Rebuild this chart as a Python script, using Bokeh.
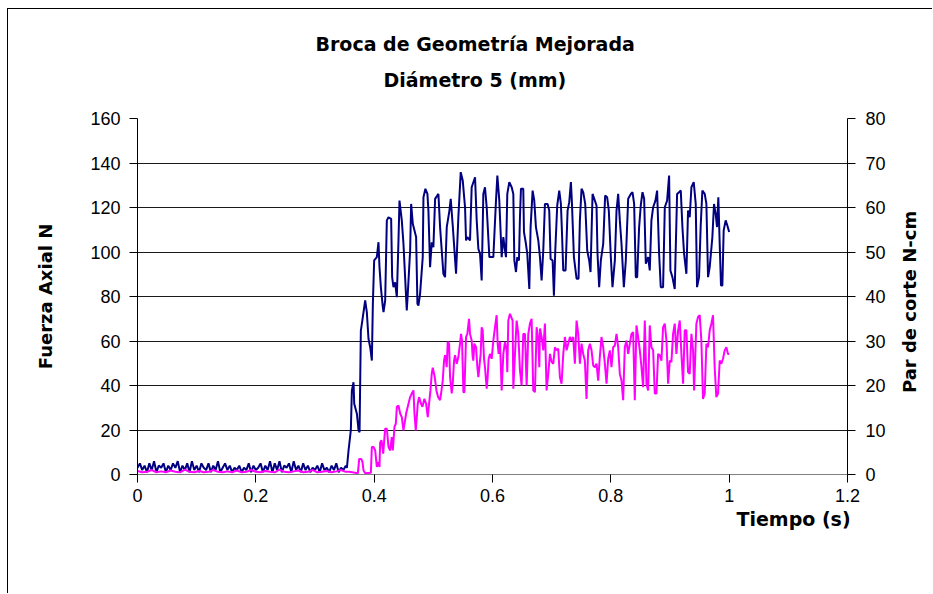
import math
from bokeh.plotting import figure
from bokeh.models import Range1d, LinearAxis, FixedTicker, NumeralTickFormatter, Title
from bokeh.embed import file_html
from bokeh.resources import INLINE

# ---------------- data ----------------
title_lines = ["Broca de Geometría Mejorada", "Diámetro 5 (mm)"]
x_label = "Tiempo (s)"
y_label_left = "Fuerza Axial N"
y_label_right = "Par de corte N-cm"
x_ticks = [0, 0.2, 0.4, 0.6, 0.8, 1.0, 1.2]
y_ticks_left = [0, 20, 40, 60, 80, 100, 120, 140, 160]
y_ticks_right = [0, 10, 20, 30, 40, 50, 60, 70, 80]

# idle period (before the drill touches), sampled every 0.004 s
base_step = 0.004
fuerza_base = [3, 5, 2, 4, 1, 5, 2, 6, 1, 4, 3, 5, 1, 4, 2, 5, 3, 6, 1, 4,
               2, 5, 1, 6, 2, 4, 1, 5, 3, 2, 5, 1, 4, 2, 6, 1, 3, 5, 2, 4,
               1, 3, 2, 4, 1, 3, 2, 5, 1, 4, 2, 3, 5, 1, 4, 2, 6, 1, 5, 2,
               6, 1, 4, 3, 5, 1, 6, 2, 4, 1, 5, 2, 4, 1, 3, 2, 4, 1, 5, 2,
               3, 1, 4, 2, 5, 1, 3, 2, 4]
par_step = 0.008
par_base = [0.8, 0.5, 0.6, 1.0, 0.5, 0.7, 0.5, 0.9, 0.6, 0.5, 1.1, 0.6, 0.5, 0.8, 0.5,
            0.6, 1.0, 0.6, 0.5, 0.7, 0.5, 0.9, 0.5, 0.6, 1.0, 0.6, 0.5, 0.8, 0.6, 0.5,
            1.1, 0.6, 0.5, 0.7, 0.9, 0.5, 0.6, 1.0, 0.5, 0.6, 0.8, 0.5, 0.7, 1.0, 0.6]

# cutting period: axial force (N)
fuerza_t = [0.3539, 0.3567, 0.3606, 0.3623, 0.3651, 0.3663, 0.3708, 0.3736, 0.3753, 0.3775,
            0.3792, 0.3848, 0.3876, 0.3904, 0.3933, 0.3961, 0.3978, 0.4000, 0.4045, 0.4073,
            0.4090, 0.4113, 0.4146, 0.4158, 0.4186, 0.4214, 0.4242, 0.4287, 0.4304, 0.4326,
            0.4354, 0.4383, 0.4411, 0.4428, 0.4467, 0.4495, 0.4523, 0.4551, 0.4568, 0.4608,
            0.4625, 0.4653, 0.4709, 0.4731, 0.4748, 0.4776, 0.4821, 0.4833, 0.4866, 0.4900,
            0.4917, 0.4945, 0.4973, 0.5001, 0.5030, 0.5086, 0.5114, 0.5170, 0.5198, 0.5227,
            0.5272, 0.5294, 0.5328, 0.5384, 0.5423, 0.5463, 0.5497, 0.5536, 0.5553, 0.5575,
            0.5620, 0.5648, 0.5705, 0.5733, 0.5761, 0.5789, 0.5817, 0.5845, 0.5873, 0.5902,
            0.5947, 0.6014, 0.6059, 0.6082, 0.6115, 0.6155, 0.6183, 0.6211, 0.6228, 0.6250,
            0.6284, 0.6324, 0.6352, 0.6369, 0.6397, 0.6419, 0.6447, 0.6464, 0.6481, 0.6520,
            0.6532, 0.6565, 0.6588, 0.6622, 0.6644, 0.6678, 0.6706, 0.6734, 0.6774, 0.6802,
            0.6830, 0.6858, 0.6886, 0.6931, 0.6959, 0.6982, 0.7016, 0.7038, 0.7061, 0.7094,
            0.7128, 0.7156, 0.7173, 0.7196, 0.7235, 0.7269, 0.7297, 0.7325, 0.7342, 0.7376,
            0.7421, 0.7454, 0.7477, 0.7505, 0.7533, 0.7567, 0.7601, 0.7634, 0.7657, 0.7691,
            0.7730, 0.7758, 0.7775, 0.7803, 0.7831, 0.7871, 0.7904, 0.7938, 0.7966, 0.8000,
            0.8028, 0.8068, 0.8096, 0.8124, 0.8152, 0.8180, 0.8220, 0.8253, 0.8293, 0.8338,
            0.8366, 0.8394, 0.8422, 0.8445, 0.8478, 0.8506, 0.8535, 0.8563, 0.8591, 0.8630,
            0.8658, 0.8686, 0.8715, 0.8754, 0.8782, 0.8816, 0.8844, 0.8883, 0.8912, 0.8951,
            0.8985, 0.9007, 0.9041, 0.9080, 0.9120, 0.9153, 0.9182, 0.9210, 0.9238, 0.9277,
            0.9305, 0.9333, 0.9362, 0.9401, 0.9435, 0.9457, 0.9491, 0.9519, 0.9547, 0.9587,
            0.9615, 0.9643, 0.9671, 0.9716, 0.9744, 0.9772, 0.9795, 0.9817, 0.9840, 0.9862,
            0.9885, 0.9907, 0.9941, 0.9969, 1.0000]
fuerza = [3.0, 10.8, 20.0, 37.7, 41.5, 31.8, 27.3, 19.8, 19.0, 64.7,
          67.7, 78.2, 73.0, 61.0, 57.2, 51.2, 76.7, 96.2, 97.7, 104.4,
          93.2, 84.2, 75.2, 73.0, 78.2, 114.2, 115.6, 114.9, 88.7, 84.2,
          86.4, 79.7, 105.2, 123.1, 114.2, 103.7, 88.7, 73.7, 81.2, 100.7,
          121.6, 112.7, 106.7, 76.7, 75.9, 81.2, 97.7, 124.6, 128.4, 126.1,
          118.6, 93.2, 104.4, 102.2, 123.9, 126.1, 111.2, 90.2, 88.7, 111.2,
          118.6, 123.9, 111.9, 90.2, 115.6, 135.9, 132.1, 120.1, 105.2, 106.7,
          105.2, 129.1, 133.6, 114.2, 101.4, 99.2, 87.2, 126.1, 129.1, 120.1,
          97.7, 97.7, 123.1, 134.4, 123.1, 97.7, 106.7, 100.7, 97.7, 126.1,
          131.4, 129.1, 126.1, 96.2, 91.0, 97.7, 96.2, 115.6, 128.4, 128.4,
          108.9, 103.7, 99.2, 83.4, 111.2, 127.6, 123.1, 111.2, 105.2, 97.7,
          87.2, 100.7, 121.6, 121.6, 118.6, 96.9, 96.2, 80.4, 100.7, 120.9,
          127.6, 121.6, 109.7, 91.7, 91.7, 118.6, 122.4, 131.4, 122.4, 97.7,
          88.0, 88.0, 114.2, 128.4, 126.9, 121.6, 100.7, 96.2, 91.0, 126.1,
          123.1, 120.9, 99.2, 84.2, 96.2, 103.7, 125.4, 124.6, 118.6, 97.7,
          84.2, 96.2, 118.6, 126.1, 114.2, 103.7, 84.2, 96.2, 123.9, 126.1,
          126.9, 121.6, 88.7, 88.7, 111.2, 120.9, 126.9, 123.9, 94.7, 97.7,
          91.7, 114.2, 120.1, 123.1, 127.6, 99.2, 84.2, 84.2, 120.1, 123.1,
          134.4, 91.7, 88.7, 83.4, 126.1, 126.9, 127.6, 111.2, 99.2, 90.2,
          118.6, 115.6, 129.1, 131.4, 121.6, 84.2, 88.7, 111.9, 127.6, 126.1,
          121.6, 88.7, 93.2, 106.7, 121.6, 117.1, 111.2, 124.6, 103.7, 85.0,
          85.0, 109.7, 114.2, 111.9, 109.0]

# cutting period: cutting torque (N-cm)
par_t = [0.3580, 0.3725, 0.3747, 0.3781, 0.3803, 0.3820, 0.3848, 0.3944, 0.3961, 0.3989,
         0.4017, 0.4045, 0.4073, 0.4090, 0.4101, 0.4124, 0.4152, 0.4186, 0.4214, 0.4242,
         0.4270, 0.4298, 0.4315, 0.4343, 0.4366, 0.4383, 0.4411, 0.4439, 0.4467, 0.4495,
         0.4523, 0.4540, 0.4580, 0.4608, 0.4636, 0.4664, 0.4681, 0.4703, 0.4737, 0.4759,
         0.4793, 0.4816, 0.4849, 0.4878, 0.4906, 0.4928, 0.4951, 0.4973, 0.4990, 0.5024,
         0.5052, 0.5080, 0.5114, 0.5131, 0.5159, 0.5181, 0.5198, 0.5215, 0.5226, 0.5243,
         0.5266, 0.5283, 0.5311, 0.5328, 0.5350, 0.5367, 0.5395, 0.5423, 0.5451, 0.5468,
         0.5485, 0.5508, 0.5525, 0.5553, 0.5575, 0.5603, 0.5620, 0.5648, 0.5665, 0.5676,
         0.5693, 0.5722, 0.5744, 0.5761, 0.5778, 0.5800, 0.5817, 0.5834, 0.5857, 0.5873,
         0.5902, 0.5918, 0.5935, 0.5958, 0.5986, 0.6014, 0.6042, 0.6070, 0.6087, 0.6104,
         0.6127, 0.6155, 0.6183, 0.6211, 0.6239, 0.6250, 0.6267, 0.6295, 0.6340, 0.6352,
         0.6380, 0.6408, 0.6436, 0.6464, 0.6492, 0.6520, 0.6549, 0.6577, 0.6605, 0.6633,
         0.6661, 0.6689, 0.6717, 0.6746, 0.6774, 0.6791, 0.6802, 0.6830, 0.6858, 0.6886,
         0.6914, 0.6942, 0.6971, 0.6999, 0.7027, 0.7055, 0.7083, 0.7111, 0.7139, 0.7167,
         0.7196, 0.7224, 0.7252, 0.7280, 0.7308, 0.7336, 0.7364, 0.7392, 0.7421, 0.7449,
         0.7477, 0.7505, 0.7533, 0.7561, 0.7589, 0.7617, 0.7646, 0.7674, 0.7702, 0.7730,
         0.7758, 0.7786, 0.7814, 0.7842, 0.7871, 0.7899, 0.7927, 0.7955, 0.7983, 0.8011,
         0.8039, 0.8068, 0.8096, 0.8124, 0.8152, 0.8180, 0.8208, 0.8236, 0.8264, 0.8293,
         0.8321, 0.8349, 0.8377, 0.8405, 0.8433, 0.8461, 0.8490, 0.8518, 0.8546, 0.8574,
         0.8602, 0.8630, 0.8658, 0.8686, 0.8715, 0.8743, 0.8771, 0.8799, 0.8827, 0.8855,
         0.8883, 0.8912, 0.8940, 0.8968, 0.8996, 0.9024, 0.9052, 0.9080, 0.9108, 0.9137,
         0.9165, 0.9193, 0.9221, 0.9249, 0.9277, 0.9305, 0.9333, 0.9362, 0.9390, 0.9407,
         0.9446, 0.9474, 0.9502, 0.9530, 0.9558, 0.9587, 0.9615, 0.9643, 0.9671, 0.9699,
         0.9727, 0.9755, 0.9783, 0.9812, 0.9840, 0.9868, 0.9896, 0.9924, 0.9952, 0.9980,
         1.0000]
par = [0.6, 0.3, 3.5, 3.5, 2.8, 0.9, 0.3, 0.4, 6.2, 6.2,
       5.4, 1.7, 2.8, 1.7, 7.2, 7.7, 4.7, 10.3, 10.3, 6.2,
       5.4, 8.4, 5.4, 10.7, 11.4, 15.2, 15.5, 13.7, 12.9, 9.9,
       12.2, 13.7, 15.9, 17.4, 18.2, 18.9, 13.7, 9.9, 15.9, 17.4,
       15.9, 15.2, 17.0, 15.9, 12.9, 15.9, 18.9, 22.6, 24.0, 21.9,
       18.9, 17.4, 16.7, 18.2, 21.1, 25.6, 26.8, 25.6, 24.1, 29.8,
       29.4, 21.9, 18.2, 20.4, 25.6, 26.8, 24.9, 26.4, 29.4, 31.6,
       30.1, 18.5, 18.5, 30.9, 31.6, 35.0, 31.6, 30.1, 26.4, 25.6,
       29.4, 28.6, 24.1, 21.9, 24.1, 27.1, 33.1, 32.4, 26.0, 24.1,
       19.3, 21.9, 26.0, 27.1, 26.0, 30.1, 33.1, 35.8, 29.4, 27.1,
       29.8, 18.9, 27.1, 29.8, 27.9, 23.0, 34.6, 36.1, 34.6, 19.3,
       27.1, 34.6, 31.6, 23.4, 20.0, 31.6, 31.6, 20.0, 31.6, 33.9,
       35.0, 18.9, 18.5, 33.1, 30.1, 24.1, 32.8, 30.9, 27.9, 33.9,
       18.9, 22.6, 27.1, 25.3, 24.9, 28.6, 27.9, 28.3, 21.9, 20.4,
       27.1, 30.9, 27.9, 29.4, 30.9, 30.1, 30.9, 24.9, 34.6, 31.6,
       24.9, 29.4, 27.1, 25.6, 17.0, 27.9, 29.4, 27.9, 24.5, 24.1,
       24.9, 21.1, 26.4, 30.9, 28.6, 24.9, 20.4, 26.0, 27.9, 24.1,
       28.6, 29.0, 31.6, 28.6, 22.6, 21.1, 16.7, 28.6, 30.1, 27.1,
       29.4, 31.6, 32.0, 16.7, 33.5, 30.9, 27.9, 24.1, 19.6, 34.6,
       20.4, 18.9, 33.5, 28.6, 27.9, 18.2, 18.2, 27.1, 26.8, 25.6,
       33.1, 33.9, 30.1, 20.4, 25.6, 25.3, 31.6, 33.9, 27.1, 32.4,
       34.6, 27.1, 20.4, 32.4, 32.4, 23.0, 22.6, 31.6, 27.9, 18.9,
       33.9, 35.4, 35.8, 30.1, 17.0, 18.2, 29.4, 28.6, 32.4, 33.9,
       35.8, 24.1, 17.4, 18.2, 25.6, 24.9, 26.0, 27.9, 28.6, 27.1,
       27.1]

# full series
fuerza_x = [i * base_step for i in range(len(fuerza_base))] + fuerza_t
fuerza_y = fuerza_base + fuerza
par_x = [i * par_step for i in range(len(par_base))] + par_t
par_y = par_base + par

# ---------------- figure ----------------
FONT = "Liberation Sans"
BOLD = "DejaVu Sans"
p = figure(width=925, height=585, output_backend="svg", toolbar_location=None,
           x_range=Range1d(0, 1.2), y_range=Range1d(0, 160),
           min_border_left=129, min_border_right=85, min_border_top=109, min_border_bottom=120,
           background_fill_color="white", border_fill_color="white",
           styles={"margin-left": "7px", "margin-top": "8px",
                   "border-left": "1px solid #000", "border-top": "1px solid #000"})
p.outline_line_color = None
p.extra_y_ranges = {"par": Range1d(0, 80)}

p.xgrid.visible = False
p.ygrid.ticker = FixedTicker(ticks=y_ticks_left)
p.ygrid.grid_line_color = "#1a1a1a"
p.ygrid.grid_line_width = 1

def style_axis(ax):
    ax.major_tick_out = 8
    ax.major_tick_in = 0
    ax.minor_tick_out = 0
    ax.minor_tick_in = 0
    ax.major_tick_line_color = "black"
    ax.axis_line_color = "black"
    ax.major_label_text_font = FONT
    ax.major_label_text_font_size = "18px"
    ax.major_label_text_color = "black"
    ax.axis_label_text_font = BOLD
    ax.axis_label_text_font_style = "bold"
    ax.axis_label_text_font_size = "18px"
    ax.axis_label_text_color = "black"

xa = p.xaxis[0]
style_axis(xa)
xa.ticker = FixedTicker(ticks=x_ticks)
xa.formatter = NumeralTickFormatter(format="0.[0]")
xa.axis_line_color = "#808080"
xa.major_label_standoff = 6

ya = p.yaxis[0]
style_axis(ya)
ya.ticker = FixedTicker(ticks=y_ticks_left)
ya.major_label_standoff = 9
ya.axis_label = y_label_left
ya.axis_label_standoff = 31

yr = LinearAxis(y_range_name="par", ticker=FixedTicker(ticks=y_ticks_right))
style_axis(yr)
yr.major_label_standoff = 10
yr.axis_label_standoff = 21
if "axis_label_orientation" in yr.properties():
    # read bottom-to-top like the reference; the label starts at the bottom of the
    # axis, so it is pushed up to the middle with non-breaking spaces
    yr.axis_label_orientation = math.pi / 2
    yr.axis_label_align = "start"
    yr.axis_label = "\u00a0" * 13 + y_label_right
else:
    yr.axis_label = y_label_right
p.add_layout(yr, "right")

p.line(fuerza_x, fuerza_y, line_color="#000080", line_width=2)
p.line(par_x, par_y, line_color="#FF00FF", line_width=2, y_range_name="par")

spacer = Title(text=" ", text_font_size="2px", standoff=12)
t2 = Title(text=title_lines[1], align="left", offset=246, text_font=BOLD,
           text_font_style="bold", text_font_size="19px", text_color="black", standoff=24)
t1 = Title(text=title_lines[0], align="left", offset=178, text_font=BOLD,
           text_font_style="bold", text_font_size="19px", text_color="black", standoff=0)
p.add_layout(spacer, "above")
p.add_layout(t2, "above")
p.add_layout(t1, "above")

tx = Title(text=x_label, align="left", offset=599, text_font=BOLD,
           text_font_style="bold", text_font_size="19px", text_color="black", standoff=3)
p.add_layout(tx, "below")

open("out.html", "w").write(file_html(p, INLINE))
